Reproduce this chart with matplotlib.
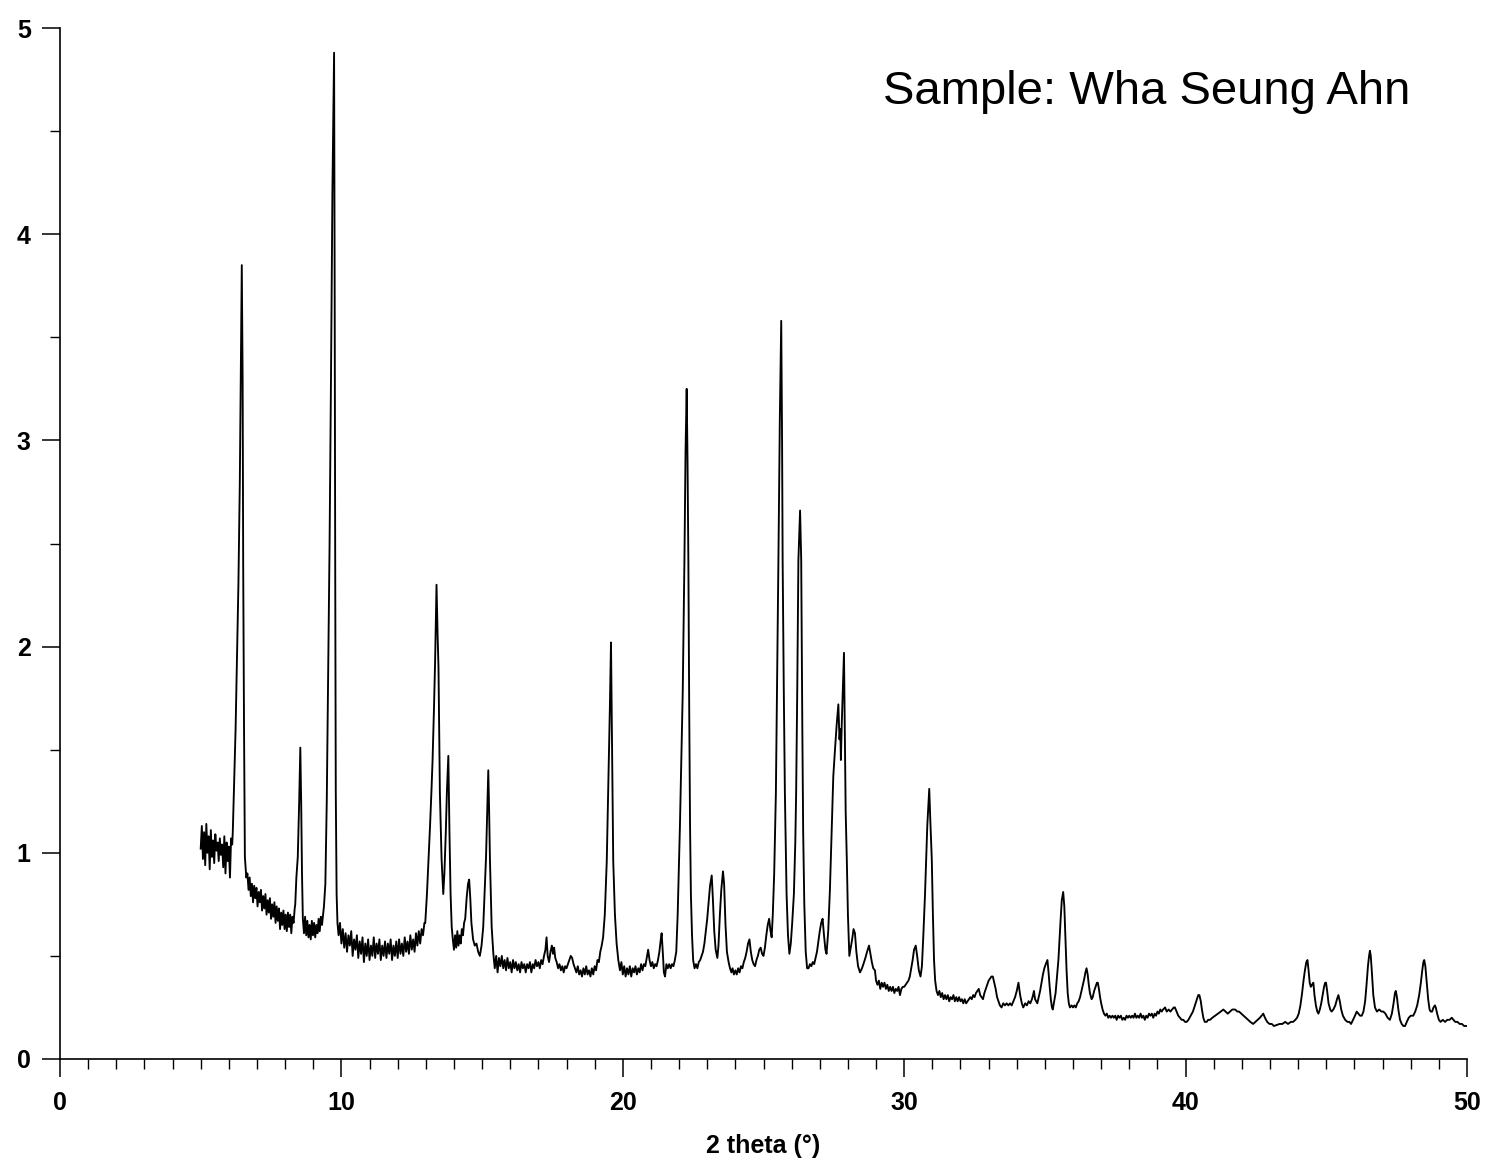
import matplotlib
matplotlib.use("Agg")
import matplotlib.pyplot as plt
from matplotlib.ticker import MultipleLocator
import numpy as np

plt.rcParams['font.family'] = ['Liberation Sans', 'DejaVu Sans']

# ---- traced diffraction pattern (2 theta in degrees, intensity in axis units) ----
tt_05_10 = [5.00, 5.04, 5.08, 5.12, 5.16, 5.20, 5.24, 5.28, 5.32, 5.36, 5.40, 5.44, 5.48, 5.52, 5.56, 5.60,
            5.64, 5.68, 5.72, 5.76, 5.80, 5.84, 5.88, 5.92, 5.96, 6.00, 6.04, 6.08, 6.12,
            6.14, 6.18, 6.24, 6.29, 6.34, 6.39, 6.43, 6.46, 6.49, 6.51, 6.54, 6.57, 6.62,
            6.66, 6.70, 6.74, 6.78, 6.82, 6.86, 6.90, 6.94, 6.98, 7.02, 7.06, 7.10, 7.14, 7.18, 7.22, 7.26,
            7.30, 7.34, 7.38, 7.42, 7.46, 7.50, 7.54, 7.58, 7.62, 7.66, 7.70, 7.74, 7.78, 7.82, 7.86, 7.90,
            7.94, 7.98, 8.02, 8.06, 8.10, 8.14, 8.18, 8.22, 8.26, 8.30, 8.34,
            8.36, 8.40, 8.45, 8.50, 8.54, 8.57, 8.60, 8.63,
            8.67, 8.71, 8.75, 8.79, 8.83, 8.87, 8.91, 8.95, 8.99, 9.03, 9.07, 9.11, 9.15, 9.19, 9.23, 9.27, 9.31,
            9.35, 9.38, 9.43, 9.48, 9.53, 9.58, 9.63, 9.68, 9.74, 9.76, 9.78, 9.80, 9.83, 9.86]
int_05_10 = [1.02, 1.13, 0.97, 1.10, 0.94, 1.14, 1.00, 1.08, 0.92, 1.11, 0.98, 1.06, 0.95, 1.09, 1.01, 1.05,
             0.96, 1.07, 0.99, 1.04, 0.93, 1.08, 0.90, 1.05, 0.96, 1.03, 0.88, 1.07, 1.04,
             1.10, 1.30, 1.60, 1.95, 2.30, 2.80, 3.40, 3.85, 3.30, 2.40, 1.60, 0.98, 0.88,
             0.90, 0.82, 0.88, 0.79, 0.85, 0.76, 0.84, 0.78, 0.83, 0.74, 0.81, 0.76, 0.82, 0.72, 0.79, 0.73,
             0.80, 0.70, 0.77, 0.71, 0.78, 0.68, 0.75, 0.69, 0.76, 0.66, 0.74, 0.67, 0.73, 0.63, 0.71, 0.65,
             0.72, 0.63, 0.70, 0.62, 0.71, 0.64, 0.70, 0.61, 0.69, 0.66, 0.73,
             0.75, 0.88, 0.98, 1.25, 1.51, 1.25, 0.90, 0.68,
             0.61, 0.69, 0.60, 0.67, 0.59, 0.65, 0.58, 0.67, 0.60, 0.66, 0.59, 0.65, 0.61, 0.68, 0.62, 0.69, 0.65,
             0.70, 0.74, 0.85, 1.25, 1.90, 2.50, 3.30, 4.20, 4.88, 3.80, 2.40, 1.30, 0.80, 0.66]

tt_10_14 = [9.90, 9.95, 10.00, 10.05, 10.10, 10.15, 10.20, 10.25, 10.30, 10.35, 10.40, 10.45, 10.50, 10.55,
            10.60, 10.65, 10.70, 10.75, 10.80, 10.85, 10.90, 10.95, 11.00, 11.05, 11.10, 11.15, 11.20, 11.25,
            11.30, 11.35, 11.40, 11.45, 11.50, 11.55, 11.60, 11.65, 11.70, 11.75, 11.80, 11.85, 11.90, 11.95,
            12.00, 12.05, 12.10, 12.15, 12.20, 12.25, 12.30, 12.35, 12.40, 12.45, 12.50, 12.55, 12.60, 12.65,
            12.70, 12.75, 12.80, 12.85, 12.90, 12.95,
            12.98, 13.04, 13.10, 13.15, 13.20, 13.24, 13.29, 13.33, 13.38, 13.42, 13.45, 13.50, 13.56, 13.62,
            13.66, 13.71, 13.75, 13.80, 13.84, 13.88, 13.92]
int_10_14 = [0.60, 0.66, 0.56, 0.63, 0.54, 0.61, 0.52, 0.60, 0.55, 0.62, 0.50, 0.58, 0.53, 0.60,
             0.49, 0.57, 0.51, 0.59, 0.47, 0.56, 0.50, 0.58, 0.48, 0.55, 0.50, 0.59, 0.49, 0.56,
             0.51, 0.58, 0.48, 0.55, 0.50, 0.57, 0.49, 0.56, 0.51, 0.58, 0.48, 0.55, 0.50, 0.57,
             0.49, 0.58, 0.51, 0.56, 0.50, 0.59, 0.52, 0.57, 0.51, 0.60, 0.53, 0.58, 0.52, 0.61,
             0.55, 0.62, 0.56, 0.63, 0.60, 0.66,
             0.66, 0.80, 0.98, 1.13, 1.30, 1.45, 1.70, 1.93, 2.30, 2.05, 1.90, 1.29, 0.97, 0.80,
             0.90, 1.10, 1.30, 1.47, 1.10, 0.80, 0.64]

tt_14_22 = [13.96, 14.00, 14.04, 14.08, 14.12, 14.16, 14.20, 14.24, 14.28, 14.32, 14.36, 14.40, 14.45, 14.50,
            14.54, 14.58, 14.62, 14.68, 14.74, 14.80, 14.86, 14.92, 14.98, 15.04, 15.10, 15.14, 15.18, 15.22,
            15.25, 15.28, 15.34, 15.40,
            15.45, 15.50, 15.55, 15.60, 15.65, 15.70, 15.75, 15.80, 15.85, 15.90, 15.95, 16.00, 16.05, 16.10,
            16.15, 16.20, 16.25, 16.30, 16.35, 16.40, 16.45, 16.50, 16.55, 16.60, 16.65, 16.70, 16.75, 16.80,
            16.85, 16.90, 16.95, 17.00, 17.05, 17.10, 17.15, 17.20, 17.25, 17.29, 17.33, 17.38, 17.43, 17.48,
            17.52, 17.56, 17.60, 17.65, 17.70, 17.75, 17.80, 17.85, 17.90, 17.95, 18.00, 18.05, 18.10, 18.15,
            18.20, 18.25, 18.30, 18.35, 18.40, 18.45, 18.50, 18.55, 18.60, 18.65, 18.70, 18.75, 18.80, 18.85,
            18.90, 18.95, 19.00, 19.05, 19.10, 19.15, 19.20, 19.25,
            19.30, 19.36, 19.43, 19.48, 19.54, 19.58, 19.61, 19.66, 19.72, 19.78, 19.84,
            19.90, 19.95, 20.00, 20.05, 20.10, 20.15, 20.20, 20.25, 20.30, 20.35, 20.40, 20.45, 20.50, 20.55,
            20.60, 20.65, 20.70, 20.75, 20.80, 20.85, 20.90, 20.95, 21.00, 21.05, 21.10, 21.15, 21.20, 21.25,
            21.30, 21.35, 21.38, 21.42, 21.46, 21.50, 21.55, 21.60, 21.65, 21.70, 21.75, 21.80, 21.85, 21.90]
int_14_22 = [0.58, 0.53, 0.60, 0.54, 0.62, 0.55, 0.60, 0.56, 0.63, 0.60, 0.66, 0.68, 0.78, 0.85,
             0.87, 0.78, 0.66, 0.58, 0.55, 0.56, 0.52, 0.50, 0.55, 0.64, 0.85, 0.98, 1.20, 1.40,
             1.20, 0.96, 0.64, 0.51,
             0.44, 0.50, 0.42, 0.49, 0.45, 0.50, 0.44, 0.48, 0.43, 0.49, 0.44, 0.47, 0.42, 0.48,
             0.44, 0.47, 0.43, 0.46, 0.42, 0.47, 0.44, 0.46, 0.42, 0.46, 0.44, 0.47, 0.42, 0.46,
             0.44, 0.48, 0.45, 0.47, 0.44, 0.48, 0.46, 0.50, 0.53, 0.59, 0.50, 0.47, 0.52, 0.55,
             0.51, 0.54, 0.49, 0.47, 0.44, 0.46, 0.43, 0.45, 0.42, 0.45, 0.44, 0.46, 0.48, 0.50,
             0.49, 0.46, 0.44, 0.42, 0.45, 0.41, 0.43, 0.40, 0.44, 0.41, 0.45, 0.41, 0.43, 0.40,
             0.44, 0.41, 0.45, 0.43, 0.48, 0.47, 0.52, 0.55,
             0.59, 0.70, 0.96, 1.29, 1.70, 2.02, 1.62, 0.96, 0.70, 0.56, 0.48,
             0.43, 0.47, 0.41, 0.45, 0.40, 0.44, 0.41, 0.45, 0.40, 0.44, 0.42, 0.45, 0.41, 0.44,
             0.42, 0.46, 0.43, 0.46, 0.45, 0.49, 0.53, 0.48, 0.45, 0.47, 0.44, 0.46, 0.45, 0.48,
             0.52, 0.58, 0.61, 0.52, 0.42, 0.40, 0.46, 0.44, 0.46, 0.44, 0.46, 0.45, 0.48, 0.52]

tt_22_31 = [21.95, 22.03, 22.13, 22.19, 22.23, 22.27, 22.30, 22.33, 22.36, 22.39, 22.42, 22.46, 22.50,
            22.55, 22.60, 22.65, 22.70, 22.75, 22.80, 22.85, 22.90, 22.95, 23.00, 23.05, 23.10, 23.16, 23.20,
            23.25, 23.30, 23.36, 23.40, 23.45, 23.50, 23.56, 23.60, 23.65, 23.70, 23.76, 23.81, 23.86, 23.90,
            23.95, 24.00, 24.05, 24.10, 24.15, 24.20, 24.25, 24.30, 24.35, 24.40, 24.45, 24.50, 24.55, 24.60,
            24.65, 24.70, 24.75, 24.80, 24.85, 24.90, 24.95, 25.00, 25.05, 25.10, 25.15, 25.20, 25.25, 25.29,
            25.33, 25.38, 25.44, 25.49, 25.53, 25.58, 25.63, 25.66, 25.68, 25.72, 25.76, 25.82, 25.87, 25.92,
            25.97, 26.02, 26.08, 26.13, 26.16, 26.20, 26.24, 26.30, 26.34, 26.38, 26.41, 26.45, 26.50, 26.55,
            26.60, 26.65, 26.70, 26.75, 26.80, 26.85, 26.90, 26.95, 27.00, 27.05, 27.10, 27.15, 27.20, 27.24,
            27.30, 27.36, 27.42, 27.48, 27.54, 27.60, 27.66, 27.70, 27.73, 27.75, 27.78, 27.82, 27.86, 27.89,
            27.92, 27.96, 28.00, 28.05, 28.10, 28.15, 28.20, 28.25, 28.30, 28.36, 28.43, 28.50, 28.55, 28.62,
            28.68, 28.75, 28.80, 28.85, 28.90, 28.96,
            29.00, 29.05, 29.10, 29.15, 29.20, 29.25, 29.30, 29.35, 29.40, 29.45, 29.50, 29.55, 29.60, 29.65,
            29.70, 29.75, 29.80, 29.85, 29.90, 29.95, 30.00, 30.05, 30.10, 30.15, 30.20, 30.25, 30.30, 30.35,
            30.41, 30.46, 30.52, 30.58, 30.63, 30.68, 30.74, 30.82, 30.89, 30.93, 30.98, 31.02, 31.06, 31.10,
            31.15]
int_22_31 = [0.70, 1.13, 1.78, 2.42, 2.95, 3.25, 2.90, 2.42, 1.70, 1.13, 0.80, 0.60, 0.48,
             0.44, 0.46, 0.44, 0.47, 0.48, 0.50, 0.52, 0.56, 0.62, 0.68, 0.76, 0.84, 0.89, 0.78,
             0.62, 0.53, 0.49, 0.55, 0.70, 0.82, 0.91, 0.85, 0.65, 0.52, 0.47, 0.44, 0.42, 0.44,
             0.41, 0.43, 0.41, 0.44, 0.42, 0.45, 0.44, 0.47, 0.49, 0.52, 0.56, 0.58, 0.52, 0.48,
             0.46, 0.45, 0.48, 0.50, 0.53, 0.54, 0.51, 0.50, 0.54, 0.60, 0.65, 0.68, 0.62, 0.59,
             0.70, 0.90, 1.29, 1.90, 2.42, 3.10, 3.58, 3.00, 2.42, 1.80, 1.29, 0.80, 0.60, 0.51,
             0.56, 0.66, 0.80, 1.05, 1.29, 1.80, 2.42, 2.66, 2.42, 1.60, 1.10, 0.75, 0.52, 0.44,
             0.44, 0.46, 0.45, 0.47, 0.46, 0.49, 0.52, 0.57, 0.62, 0.66, 0.68, 0.60, 0.53, 0.51,
             0.62, 0.82, 1.10, 1.37, 1.50, 1.62, 1.72, 1.55, 1.60, 1.45, 1.62, 1.80, 1.97, 1.60,
             1.20, 0.97, 0.70, 0.50, 0.54, 0.58, 0.63, 0.61, 0.52, 0.45, 0.42, 0.44, 0.46, 0.49,
             0.52, 0.55, 0.51, 0.47, 0.44, 0.43,
             0.38, 0.36, 0.38, 0.34, 0.37, 0.35, 0.37, 0.34, 0.36, 0.33, 0.35, 0.33, 0.35, 0.32,
             0.34, 0.33, 0.35, 0.31, 0.34, 0.35, 0.35, 0.36, 0.37, 0.38, 0.40, 0.44, 0.48, 0.53,
             0.55, 0.50, 0.43, 0.40, 0.45, 0.60, 0.80, 1.13, 1.31, 1.15, 0.97, 0.70, 0.48, 0.38,
             0.33]

tt_31_41 = [31.20, 31.25, 31.30, 31.35, 31.40, 31.45, 31.50, 31.55, 31.60, 31.65, 31.70, 31.75, 31.80, 31.85,
            31.90, 31.95, 32.00, 32.05, 32.10, 32.15, 32.20, 32.25, 32.30, 32.35, 32.40, 32.45, 32.50, 32.55,
            32.60, 32.65, 32.70, 32.75, 32.80, 32.85, 32.90, 32.95, 33.00, 33.05, 33.10, 33.15, 33.20, 33.25,
            33.30, 33.35, 33.40, 33.46, 33.52, 33.58, 33.64, 33.70, 33.76, 33.82, 33.88, 33.94, 34.00, 34.06,
            34.12, 34.18, 34.23, 34.30, 34.36, 34.42, 34.48, 34.54, 34.58, 34.61, 34.65, 34.69, 34.73, 34.78,
            34.83, 34.88, 34.93, 34.98, 35.03, 35.09, 35.13, 35.17, 35.21, 35.25, 35.28, 35.33, 35.38, 35.43,
            35.48, 35.52, 35.56, 35.60, 35.65, 35.69, 35.73, 35.77, 35.81, 35.85, 35.89, 35.95, 36.00, 36.05,
            36.10, 36.15, 36.20, 36.25, 36.30, 36.35, 36.40, 36.44, 36.48, 36.52, 36.56, 36.60, 36.66, 36.70,
            36.75, 36.80, 36.85, 36.88, 36.92, 36.96, 37.00, 37.05, 37.10, 37.15, 37.20, 37.25, 37.30, 37.35,
            37.40, 37.45, 37.50, 37.55, 37.60, 37.65, 37.70, 37.75, 37.80, 37.85, 37.90, 37.95, 38.00, 38.05,
            38.10, 38.15, 38.20, 38.25, 38.30, 38.35, 38.40, 38.45, 38.50, 38.55, 38.60, 38.65, 38.70, 38.75,
            38.80, 38.85, 38.90, 38.95, 39.00, 39.05, 39.10, 39.15, 39.20, 39.27, 39.33, 39.40, 39.46, 39.52,
            39.58, 39.62, 39.68, 39.74, 39.80, 39.86, 39.92, 39.98, 40.04, 40.10, 40.18, 40.26, 40.33, 40.40,
            40.45, 40.49, 40.54, 40.58, 40.63, 40.68, 40.75]
int_31_41 = [0.31, 0.33, 0.30, 0.32, 0.29, 0.31, 0.29, 0.31, 0.28, 0.30, 0.29, 0.31, 0.28, 0.30,
             0.28, 0.30, 0.28, 0.29, 0.27, 0.29, 0.27, 0.28, 0.29, 0.30, 0.29, 0.31, 0.30, 0.32,
             0.33, 0.34, 0.31, 0.30, 0.29, 0.32, 0.34, 0.36, 0.38, 0.39, 0.40, 0.40, 0.37, 0.34,
             0.30, 0.28, 0.26, 0.25, 0.27, 0.26, 0.27, 0.26, 0.27, 0.26, 0.28, 0.30, 0.33, 0.37,
             0.31, 0.27, 0.25, 0.27, 0.26, 0.28, 0.27, 0.29, 0.31, 0.33, 0.29, 0.28, 0.27, 0.30,
             0.33, 0.37, 0.41, 0.44, 0.46, 0.48, 0.42, 0.35, 0.29, 0.25, 0.24, 0.28, 0.32, 0.40,
             0.48, 0.58, 0.68, 0.77, 0.81, 0.74, 0.58, 0.43, 0.32, 0.27, 0.25, 0.26, 0.25, 0.26,
             0.25, 0.27, 0.28, 0.30, 0.33, 0.36, 0.39, 0.42, 0.44, 0.41, 0.36, 0.32, 0.29, 0.30,
             0.33, 0.35, 0.37, 0.37, 0.34, 0.30, 0.27, 0.24, 0.22, 0.21, 0.22, 0.20, 0.21, 0.20,
             0.21, 0.20, 0.21, 0.19, 0.21, 0.20, 0.21, 0.19, 0.20, 0.19, 0.21, 0.20, 0.21, 0.20,
             0.21, 0.20, 0.22, 0.20, 0.21, 0.20, 0.22, 0.20, 0.21, 0.19, 0.21, 0.20, 0.22, 0.21,
             0.22, 0.20, 0.22, 0.21, 0.23, 0.22, 0.24, 0.23, 0.24, 0.25, 0.23, 0.24, 0.23, 0.24,
             0.25, 0.25, 0.23, 0.21, 0.20, 0.19, 0.19, 0.18, 0.18, 0.19, 0.21, 0.23, 0.26, 0.29,
             0.31, 0.31, 0.28, 0.24, 0.20, 0.18, 0.18]

tt_41_50 = [40.80, 40.87, 40.95, 41.05, 41.15, 41.25, 41.34, 41.42, 41.50, 41.58, 41.66, 41.76, 41.84, 41.90,
            41.98, 42.06, 42.14, 42.22, 42.30, 42.40, 42.48, 42.56, 42.64, 42.70, 42.76, 42.82, 42.90, 42.98,
            43.06, 43.14, 43.24, 43.34, 43.44, 43.54, 43.64, 43.74, 43.82, 43.90, 43.96, 44.02, 44.08, 44.14,
            44.19, 44.24, 44.29, 44.33, 44.37, 44.41, 44.45, 44.49, 44.54, 44.58, 44.63, 44.68, 44.72, 44.77,
            44.82, 44.87, 44.92, 44.96, 44.99, 45.03, 45.08, 45.14, 45.19, 45.25, 45.32, 45.38, 45.43, 45.48,
            45.53, 45.59, 45.67, 45.75, 45.82, 45.88, 45.95, 46.02, 46.08, 46.14, 46.20, 46.26, 46.32, 46.38,
            46.43, 46.48, 46.52, 46.55, 46.58, 46.62, 46.67, 46.73, 46.80, 46.88, 46.96, 47.03, 47.10, 47.18,
            47.26, 47.33, 47.39, 47.44, 47.47, 47.51, 47.56, 47.62, 47.68, 47.74, 47.80, 47.86, 47.93, 48.00,
            48.09, 48.16, 48.23, 48.30, 48.36, 48.41, 48.45, 48.48, 48.52, 48.57, 48.62, 48.67, 48.71, 48.76,
            48.81, 48.86, 48.89, 48.94, 49.00, 49.06, 49.14, 49.22, 49.30, 49.38, 49.46, 49.52, 49.58, 49.66,
            49.74, 49.82, 49.90, 49.97]
int_41_50 = [0.19, 0.19, 0.20, 0.21, 0.22, 0.23, 0.24, 0.23, 0.22, 0.23, 0.24, 0.24, 0.23, 0.23,
             0.22, 0.21, 0.20, 0.19, 0.18, 0.17, 0.18, 0.19, 0.20, 0.21, 0.22, 0.20, 0.18, 0.17,
             0.17, 0.16, 0.165, 0.17, 0.17, 0.18, 0.17, 0.18, 0.18, 0.19, 0.20, 0.22, 0.26, 0.32,
             0.38, 0.43, 0.47, 0.48, 0.43, 0.37, 0.35, 0.36, 0.37, 0.31, 0.26, 0.23, 0.22, 0.24,
             0.27, 0.31, 0.35, 0.37, 0.37, 0.33, 0.27, 0.24, 0.23, 0.24, 0.26, 0.29, 0.31, 0.28,
             0.24, 0.21, 0.19, 0.18, 0.18, 0.17, 0.19, 0.21, 0.23, 0.22, 0.21, 0.21, 0.23, 0.28,
             0.36, 0.45, 0.50, 0.525, 0.50, 0.42, 0.31, 0.25, 0.23, 0.24, 0.23, 0.23, 0.22, 0.20,
             0.19, 0.22, 0.27, 0.32, 0.33, 0.30, 0.24, 0.19, 0.17, 0.16, 0.16, 0.18, 0.20, 0.21,
             0.21, 0.23, 0.26, 0.31, 0.37, 0.43, 0.47, 0.48, 0.45, 0.37, 0.29, 0.24, 0.23, 0.23,
             0.25, 0.26, 0.25, 0.22, 0.19, 0.18, 0.19, 0.18, 0.19, 0.19, 0.20, 0.19, 0.18, 0.18,
             0.17, 0.17, 0.16, 0.16]

x_ticks = [0, 10, 20, 30, 40, 50]
y_ticks = [0, 1, 2, 3, 4, 5]
x_label = "2 theta (°)"
sample_label = "Sample: Wha Seung Ahn"

two_theta = np.array(tt_05_10 + tt_10_14 + tt_14_22 + tt_22_31 + tt_31_41 + tt_41_50)
intensity = np.array(int_05_10 + int_10_14 + int_14_22 + int_22_31 + int_31_41 + int_41_50)
order = np.argsort(two_theta, kind="stable")
two_theta, intensity = two_theta[order], intensity[order]

fig = plt.figure(figsize=(14.86, 11.65), dpi=100)
ax = fig.add_axes([60 / 1486, 1 - 1059 / 1165, (1467 - 60) / 1486, (1059 - 28) / 1165])

ax.plot(two_theta, intensity, color="black", lw=1.35)

ax.set_xlim(0, 50)
ax.set_ylim(0, 5)
for s in ("top", "right"):
    ax.spines[s].set_visible(False)
for s in ("left", "bottom"):
    ax.spines[s].set_linewidth(1.2)

ax.set_xticks(x_ticks)
ax.set_yticks(y_ticks)
ax.xaxis.set_minor_locator(MultipleLocator(1))
ax.yaxis.set_minor_locator(MultipleLocator(0.5))
ax.tick_params(axis="both", which="major", direction="out", length=13, width=1.1,
               labelsize=18)
ax.tick_params(axis="both", which="minor", direction="out", length=7, width=1.0)
ax.tick_params(axis="x", which="major", pad=10)
ax.tick_params(axis="y", which="major", pad=8)
for lab in ax.get_xticklabels() + ax.get_yticklabels():
    lab.set_fontweight("bold")

ax.set_xlabel(x_label, fontsize=18, fontweight="bold", labelpad=14)

fig.text(883 / 1486, 1 - 104 / 1165, sample_label, fontsize=34, ha="left", va="baseline")

fig.savefig("out.png", dpi=100)
